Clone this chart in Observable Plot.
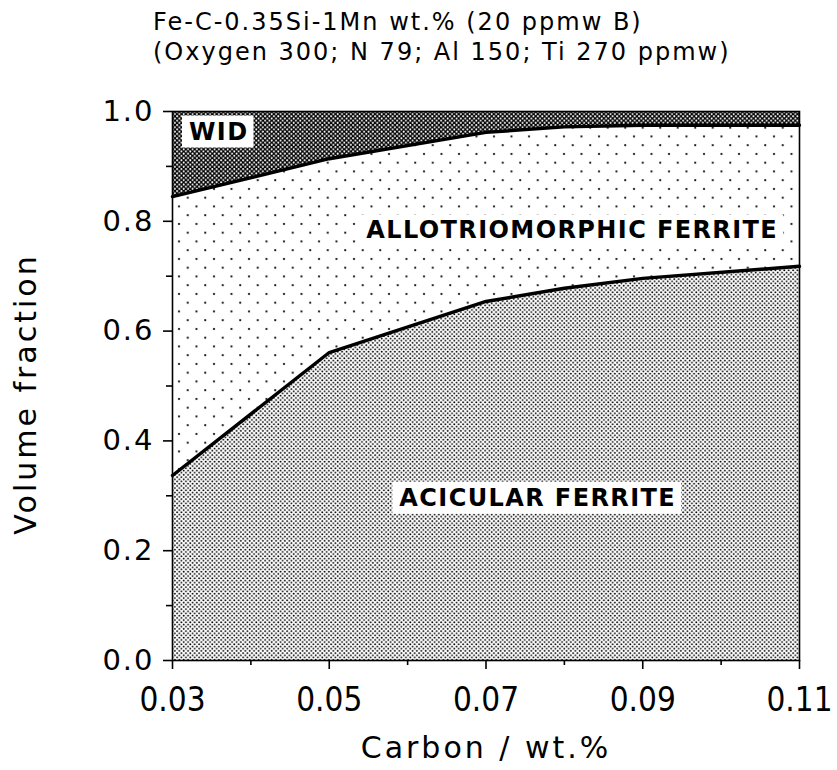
<!DOCTYPE html>
<html><head><meta charset="utf-8">
<script src="https://cdn.jsdelivr.net/npm/d3@7"></script>
<script src="https://cdn.jsdelivr.net/npm/@observablehq/plot@0.6"></script>
<style>
body{margin:0;background:#fff;}
#title{font-family:"DejaVu Sans",sans-serif;font-size:24px;line-height:30px;padding:7px 0 0 153px;height:73px;color:#000;letter-spacing:2px;box-sizing:content-box;white-space:nowrap;}
#chart svg{display:block;}
#chart g[aria-label="y-axis tick label"] text{letter-spacing:2px;}
</style></head><body>
<div id="title"><div>Fe-C-0.35Si-1Mn wt.% (20 ppmw B)</div><div>(Oxygen 300; N 79; Al 150; Ti 270 ppmw)</div></div>
<div id="chart"></div>
<script>
// Carbon content (wt.%) and cumulative volume-fraction boundaries
const carbon    = [0.03, 0.05, 0.07, 0.08, 0.09, 0.11];
const acicular  = [0.337, 0.561, 0.654, 0.678, 0.696, 0.718];   // top of acicular ferrite
const allotrio  = [0.845, 0.914, 0.962, 0.972, 0.975, 0.975];   // top of allotriomorphic ferrite (WID above)
const xTicks = [0.03, 0.05, 0.07, 0.09, 0.11];
const xMinor = [0.04, 0.06, 0.08, 0.10];
const yTicks = [0, 0.2, 0.4, 0.6, 0.8, 1.0];
const yMinor = [0.1, 0.3, 0.5, 0.7, 0.9];
const labels = ["WID", "ALLOTRIOMORPHIC FERRITE", "ACICULAR FERRITE"];
const labelX = [0.0359, 0.081, 0.0766];
const labelY = [0.963, 0.783, 0.296];

const rows = carbon.map((c, i) => ({c, a: acicular[i], b: allotrio[i]}));

const svg = Plot.plot({
  width: 837, height: 690,
  marginLeft: 172, marginRight: 38, marginTop: 31, marginBottom: 110,
  x: {domain: [0.03, 0.11]},
  y: {domain: [0, 1]},
  style: {background: "white", color: "black", overflow: "visible"},
  marks: [
    Plot.areaY(rows, {x: "c", y1: 0, y2: "a", fill: "url(#pAF)"}),
    Plot.areaY(rows, {x: "c", y1: "a", y2: "b", fill: "url(#pALL)"}),
    Plot.areaY(rows, {x: "c", y1: "b", y2: 1, fill: "url(#pWID)"}),
    Plot.lineY(rows, {x: "c", y: "a", stroke: "black", strokeWidth: 3.4}),
    Plot.lineY(rows, {x: "c", y: "b", stroke: "black", strokeWidth: 3.4}),
    Plot.frame({stroke: "black", strokeWidth: 1.6}),
    Plot.axisY({ticks: yTicks, tickSize: 9, tickPadding: 9, tickFormat: d => d.toFixed(1), fontSize: 29, fontFamily: "DejaVu Sans", label: null, strokeWidth: 1.6}),
    Plot.axisY({ticks: yMinor, tickSize: 6, tickFormat: () => "", label: null, strokeWidth: 1.6}),
    Plot.axisX({ticks: xTicks, tickSize: 9, tickPadding: 18, tickFormat: d => d.toFixed(2), fontSize: 33, fontFamily: "Liberation Sans Narrow, DejaVu Sans Condensed, sans-serif", label: null, strokeWidth: 1.6}),
    Plot.axisX({ticks: xMinor, tickSize: 5, tickFormat: () => "", label: null, strokeWidth: 1.6}),
    Plot.text(["Volume fraction"], {frameAnchor: "left", dx: -146, dy: 8, rotate: -90, textAnchor: "middle", fontSize: 30, fontFamily: "DejaVu Sans"}),
    Plot.text(["Carbon / wt.%"], {frameAnchor: "bottom", dy: 97, textAnchor: "middle", fontSize: 30, fontFamily: "DejaVu Sans"}),
    Plot.text(labels, {x: labelX, y: labelY, text: d => d, fontSize: 24, fontWeight: "bold", fontFamily: "DejaVu Sans"})
  ]
});

const defs = d3.select(svg).insert("defs", ":first-child");
const pAF = defs.append("pattern").attr("id", "pAF").attr("patternUnits", "userSpaceOnUse").attr("width", 4.4).attr("height", 4.4);
pAF.append("rect").attr("width", 4.4).attr("height", 4.4).attr("fill", "white");
pAF.append("circle").attr("cx", 1.1).attr("cy", 1.1).attr("r", 0.95).attr("fill", "black");
pAF.append("circle").attr("cx", 3.3).attr("cy", 3.3).attr("r", 0.95).attr("fill", "black");
const pALL = defs.append("pattern").attr("id", "pALL").attr("patternUnits", "userSpaceOnUse").attr("width", 17.5).attr("height", 17.5);
pALL.append("rect").attr("width", 17.5).attr("height", 17.5).attr("fill", "white");
pALL.append("circle").attr("cx", 4).attr("cy", 4).attr("r", 1.1).attr("fill", "black");
pALL.append("circle").attr("cx", 12.75).attr("cy", 12.75).attr("r", 1.1).attr("fill", "black");
const pWID = defs.append("pattern").attr("id", "pWID").attr("patternUnits", "userSpaceOnUse").attr("width", 4.4).attr("height", 4.4);
pWID.append("rect").attr("width", 4.4).attr("height", 4.4).attr("fill", "black");
pWID.append("circle").attr("cx", 1.1).attr("cy", 1.1).attr("r", 1.0).attr("fill", "white");
pWID.append("circle").attr("cx", 3.3).attr("cy", 3.3).attr("r", 1.0).attr("fill", "white");

document.getElementById("chart").appendChild(svg);

// letter spacing for the axis titles
d3.select(svg).selectAll("text")
  .filter(function() { return this.textContent === "Volume fraction" || this.textContent === "Carbon / wt.%"; })
  .attr("letter-spacing", 3);

// white boxes behind the phase labels, sized from the rendered text
d3.select(svg).selectAll("text")
  .filter(function() { return labels.includes(this.textContent); })
  .each(function() {
    this.setAttribute("letter-spacing", "1.4");
    const b = this.getBBox();
    const r = document.createElementNS("http://www.w3.org/2000/svg", "rect");
    r.setAttribute("x", b.x - 7);
    r.setAttribute("y", b.y - 2);
    r.setAttribute("width", b.width + 12);
    r.setAttribute("height", b.height + 4);
    r.setAttribute("fill", "white");
    const t = this.getAttribute("transform");
    if (t) r.setAttribute("transform", t);
    this.parentNode.insertBefore(r, this);
  });
</script>
</body></html>
